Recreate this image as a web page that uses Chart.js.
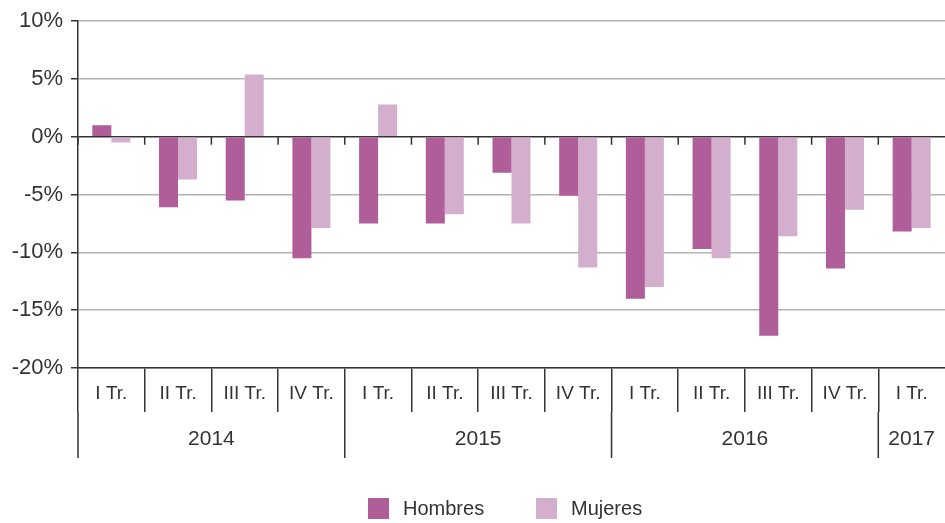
<!DOCTYPE html>
<html>
<head>
<meta charset="utf-8">
<script src="https://cdn.jsdelivr.net/npm/chart.js@4.4.0/dist/chart.umd.min.js"></script>
<style>
  html, body { margin: 0; padding: 0; background: #fff; }
</style>
</head>
<body>
<canvas id="grafica" width="945" height="523"></canvas>
<script>
// datos (variacion interanual, %)
var trimestres = ['I Tr.', 'II Tr.', 'III Tr.', 'IV Tr.', 'I Tr.', 'II Tr.', 'III Tr.', 'IV Tr.', 'I Tr.', 'II Tr.', 'III Tr.', 'IV Tr.', 'I Tr.'];
var anios = ['2014', '2015', '2016', '2017'];
var trimestresPorAnio = [4, 4, 4, 1];
var hombres = [1.0, -6.1, -5.5, -10.5, -7.5, -7.5, -3.1, -5.1, -14.0, -9.7, -17.2, -11.4, -8.2];
var mujeres = [-0.5, -3.7, 5.4, -7.9, 2.8, -6.7, -7.5, -11.3, -13.0, -10.5, -8.6, -6.3, -7.9];
var ticksY = [-20, -15, -10, -5, 0, 5, 10];

var FUENTE = '"Liberation Sans", Arial, sans-serif';
var TEXTO = '#333333';
var OSCURO = '#333333';

// marcas del eje en 0, separadores de anio, etiquetas de anio y leyenda
var ejesPlugin = {
    id: 'ejes',
    afterDatasetsDraw: function (chart) {
        var ctx = chart.ctx;
        var x = chart.scales.x;
        var y = chart.scales.y;
        var y0 = y.getPixelForValue(0);
        var abajo = chart.chartArea.bottom;

        ctx.save();
        ctx.strokeStyle = OSCURO;
        ctx.lineWidth = 1.5;
        ctx.beginPath();
        for (var i = 0; i < trimestres.length; i++) {
            var px = x.getPixelForValue(i - 0.5);
            ctx.moveTo(px, y0);
            ctx.lineTo(px, y0 + 8);
        }
        var idx = 0;
        for (var a = 0; a < anios.length; a++) {
            var sx = x.getPixelForValue(idx - 0.5);
            ctx.moveTo(sx, abajo + 44);
            ctx.lineTo(sx, abajo + 90);
            idx += trimestresPorAnio[a];
        }
        ctx.stroke();

        ctx.fillStyle = TEXTO;
        ctx.font = '21px ' + FUENTE;
        ctx.textAlign = 'center';
        ctx.textBaseline = 'middle';
        idx = 0;
        for (var b = 0; b < anios.length; b++) {
            var n = trimestresPorAnio[b];
            var cx = x.getPixelForValue(idx + (n - 1) / 2);
            ctx.fillText(anios[b], cx, abajo + 71);
            idx += n;
        }

        // leyenda
        var posLeyenda = [368, 536];
        ctx.font = '20px ' + FUENTE;
        ctx.textAlign = 'left';
        chart.data.datasets.forEach(function (ds, k) {
            ctx.fillStyle = ds.backgroundColor;
            ctx.fillRect(posLeyenda[k], 498, 21, 21);
            ctx.fillStyle = TEXTO;
            ctx.fillText(ds.label, posLeyenda[k] + 35, 509);
        });
        ctx.restore();
    }
};

new Chart(document.getElementById('grafica'), {
    type: 'bar',
    data: {
        labels: trimestres,
        datasets: [{
            label: 'Hombres',
            data: hombres,
            backgroundColor: '#af5e99',
            borderWidth: 0,
            categoryPercentage: 0.57,
            barPercentage: 1.0
        }, {
            label: 'Mujeres',
            data: mujeres,
            backgroundColor: '#d4afcd',
            borderWidth: 0,
            categoryPercentage: 0.57,
            barPercentage: 1.0
        }]
    },
    options: {
        responsive: false,
        devicePixelRatio: 1,
        animation: false,
        layout: { padding: { top: 17, bottom: 65, left: 0, right: 0 } },
        plugins: {
            legend: { display: false },
            tooltip: { enabled: false }
        },
        scales: {
            x: {
                afterFit: function (s) { s.height = 90; },
                border: { color: OSCURO, width: 1.5 },
                grid: {
                    offset: true,
                    drawOnChartArea: false,
                    tickLength: 44,
                    color: function (c) {
                        // la linea extra del borde derecho no lleva tick
                        return c.tick ? OSCURO : 'rgba(0,0,0,0)';
                    },
                    lineWidth: 1.5
                },
                ticks: {
                    color: TEXTO,
                    font: { size: 19, family: FUENTE },
                    padding: -30,
                    maxRotation: 0,
                    autoSkip: false
                }
            },
            y: {
                min: -20,
                max: 10,
                afterBuildTicks: function (s) {
                    s.ticks = ticksY.map(function (v) { return { value: v }; });
                },
                afterFit: function (s) { s.width = 78; },
                border: { color: OSCURO, width: 1.5 },
                grid: {
                    color: function (c) {
                        return c.tick && c.tick.value === 0 ? OSCURO : '#b3b3b3';
                    },
                    lineWidth: 1.5,
                    tickLength: 7,
                    tickColor: OSCURO
                },
                ticks: {
                    color: TEXTO,
                    font: { size: 22, family: FUENTE },
                    padding: 8,
                    callback: function (v) { return v + '%'; }
                }
            }
        }
    },
    plugins: [ejesPlugin]
});
</script>
</body>
</html>
